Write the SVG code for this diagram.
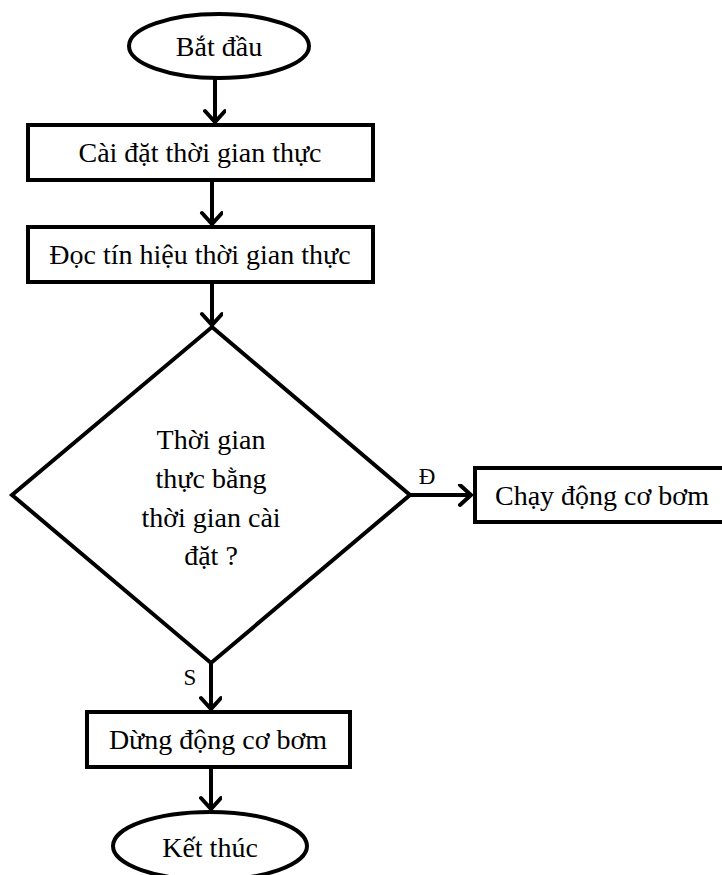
<svg xmlns="http://www.w3.org/2000/svg" width="722" height="875" viewBox="0 0 722 875">
<style>
.shape{fill:#fff;stroke:#000;stroke-width:4}
.t{font-size:28px;fill:#000;text-anchor:middle}
.lbl{font-size:23px;fill:#000;text-anchor:middle}
.edge{fill:none;stroke:#000;stroke-width:4}
</style>
<defs>
<marker id="arr" markerUnits="userSpaceOnUse" markerWidth="30" markerHeight="30" refX="14" refY="11" orient="auto">
<polyline points="3,1 14,11 3,21" fill="none" stroke="#000" stroke-width="4" stroke-linecap="round" stroke-linejoin="miter"/>
</marker>
</defs>
<rect width="722" height="875" fill="#fff"/>
<g id="connectors">
<line class="edge" x1="215" y1="79" x2="215" y2="122" marker-end="url(#arr)"/>
<line class="edge" x1="212" y1="180" x2="212" y2="224" marker-end="url(#arr)"/>
<line class="edge" x1="212" y1="282" x2="212" y2="325" marker-end="url(#arr)"/>
<line class="edge" x1="410" y1="495" x2="471" y2="495" marker-end="url(#arr)"/>
<line class="edge" x1="211" y1="663" x2="211" y2="709" marker-end="url(#arr)"/>
<line class="edge" x1="211" y1="767" x2="211" y2="809" marker-end="url(#arr)"/>
</g>
<g font-family="'Liberation Serif', 'Times New Roman', 'DejaVu Serif', serif">
<g id="start">
<ellipse class="shape" cx="219" cy="46" rx="90" ry="32"/>
<text class="t" x="219" y="56">Bắt đầu</text>
</g>
<g id="set-time">
<rect class="shape" x="28" y="125" width="345" height="55"/>
<text class="t" x="200" y="162">Cài đặt thời gian thực</text>
</g>
<g id="read-time">
<rect class="shape" x="28" y="227" width="345" height="55"/>
<text class="t" x="200" y="264">Đọc tín hiệu thời gian thực</text>
</g>
<g id="decision">
<polygon class="shape" points="212,327 410,495 211,663 12,495"/>
<text class="t" x="211" y="449">Thời gian</text>
<text class="t" x="211" y="488">thực bằng</text>
<text class="t" x="211" y="527">thời gian cài</text>
<text class="t" x="211" y="565">đặt ?</text>
</g>
<g id="run-pump">
<rect class="shape" x="475" y="468" width="260" height="54"/>
<text class="t" x="495" y="505" style="text-anchor:start">Chạy động cơ bơm</text>
</g>
<g id="stop-pump">
<rect class="shape" x="87" y="712" width="263" height="55"/>
<text class="t" x="218" y="749">Dừng động cơ bơm</text>
</g>
<g id="end">
<ellipse class="shape" cx="210" cy="846" rx="97" ry="34"/>
<text class="t" x="210" y="857">Kết thúc</text>
</g>
<g id="labels">
<text class="lbl" x="427" y="484">Đ</text>
<text class="lbl" x="190" y="685">S</text>
</g>
</g>
</svg>
